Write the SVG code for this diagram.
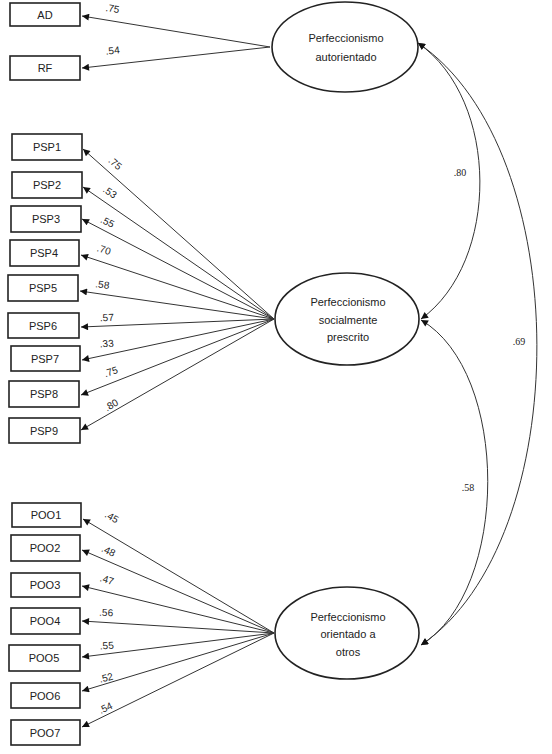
<svg xmlns="http://www.w3.org/2000/svg" width="552" height="754" viewBox="0 0 552 754">
<defs>
<marker id="ah" viewBox="0 0 10 10" refX="10" refY="5" markerUnits="userSpaceOnUse" markerWidth="9" markerHeight="7" orient="auto-start-reverse"><path d="M0,0 L10,5 L0,10 z" fill="#111"/></marker>
<style>
.box{fill:#fff;stroke:#222;stroke-width:1.6}
.ell{fill:#fff;stroke:#222;stroke-width:1.6}
.bt{font-family:"Liberation Sans",Arial,sans-serif;font-size:11px;fill:#222;text-anchor:middle}
.et{font-family:"Liberation Sans",Arial,sans-serif;font-size:11px;fill:#222;text-anchor:middle}
.lb{font-family:"Liberation Sans",Arial,sans-serif;font-size:10px;fill:#222;text-anchor:middle}
.cl{font-family:"Liberation Serif","Times New Roman",serif;font-size:10px;fill:#222;text-anchor:middle}
.ar{fill:none;stroke:#333;stroke-width:1;marker-end:url(#ah)}
.cv{fill:none;stroke:#333;stroke-width:1;marker-start:url(#ah);marker-end:url(#ah)}
</style>
</defs>
<g id="connectors">
<path class="ar" d="M270,47 L82,16"/>
<path class="ar" d="M270,47 L82,68"/>
<path class="ar" d="M274,319 L83,149"/>
<path class="ar" d="M274,319 L83,187"/>
<path class="ar" d="M274,319 L82,219"/>
<path class="ar" d="M274,319 L81,255"/>
<path class="ar" d="M274,319 L80,291"/>
<path class="ar" d="M274,319 L81,327"/>
<path class="ar" d="M274,319 L82,360"/>
<path class="ar" d="M274,319 L81,395"/>
<path class="ar" d="M274,319 L81,430"/>
<path class="ar" d="M274,633 L83,519"/>
<path class="ar" d="M274,633 L82,550"/>
<path class="ar" d="M274,633 L82,586"/>
<path class="ar" d="M274,633 L82,621"/>
<path class="ar" d="M274,633 L82,657"/>
<path class="ar" d="M274,633 L82,691"/>
<path class="ar" d="M274,633 L82,727"/>
<path class="cv" d="M418,43 C500,100 500,262 421,319"/>
<path class="cv" d="M421,320 C510,372 510,590 421,645"/>
<path class="cv" d="M418,43 C576,150 576,540 421,645"/>
<text class="lb" transform="translate(112,12) rotate(9)">.75</text>
<text class="lb" transform="translate(113,54) rotate(-6)">.54</text>
<text class="lb" transform="translate(113,166) rotate(40)">.75</text>
<text class="lb" transform="translate(108,195) rotate(34)">.53</text>
<text class="lb" transform="translate(106,225) rotate(26)">.55</text>
<text class="lb" transform="translate(103,253) rotate(17)">.70</text>
<text class="lb" transform="translate(102,288) rotate(7)">.58</text>
<text class="lb" transform="translate(107,321) rotate(-3)">.57</text>
<text class="lb" transform="translate(107,347) rotate(-5)">.33</text>
<text class="lb" transform="translate(112,375) rotate(-18)">.75</text>
<text class="lb" transform="translate(113,408) rotate(-30)">.80</text>
<text class="lb" transform="translate(110,520) rotate(30)">.45</text>
<text class="lb" transform="translate(107,554) rotate(26)">.48</text>
<text class="lb" transform="translate(106,583) rotate(16)">.47</text>
<text class="lb" transform="translate(106,616) rotate(3)">.56</text>
<text class="lb" transform="translate(107,649) rotate(-4)">.55</text>
<text class="lb" transform="translate(107,681) rotate(-14)">.52</text>
<text class="lb" transform="translate(107,711) rotate(-25)">.54</text>
<text class="cl" x="460" y="176">.80</text>
<text class="cl" x="519" y="345">.69</text>
<text class="cl" x="468" y="491">.58</text>
</g>
<g id="AD"><rect class="box" x="10" y="3" width="70" height="23"/><text class="bt" x="45" y="19">AD</text></g>
<g id="RF"><rect class="box" x="10" y="56" width="70" height="24"/><text class="bt" x="45" y="72">RF</text></g>
<g id="PSP1"><rect class="box" x="12" y="134" width="70" height="26"/><text class="bt" x="47" y="151">PSP1</text></g>
<g id="PSP2"><rect class="box" x="12" y="172" width="70" height="26"/><text class="bt" x="47" y="189">PSP2</text></g>
<g id="PSP3"><rect class="box" x="11" y="206" width="70" height="26"/><text class="bt" x="46" y="223">PSP3</text></g>
<g id="PSP4"><rect class="box" x="10" y="240" width="69" height="26"/><text class="bt" x="44" y="257">PSP4</text></g>
<g id="PSP5"><rect class="box" x="8" y="275" width="70" height="26"/><text class="bt" x="43" y="292">PSP5</text></g>
<g id="PSP6"><rect class="box" x="8" y="313" width="71" height="25"/><text class="bt" x="43" y="330">PSP6</text></g>
<g id="PSP7"><rect class="box" x="11" y="346" width="69" height="25"/><text class="bt" x="45" y="363">PSP7</text></g>
<g id="PSP8"><rect class="box" x="9" y="381" width="70" height="26"/><text class="bt" x="44" y="398">PSP8</text></g>
<g id="PSP9"><rect class="box" x="9" y="418" width="71" height="25"/><text class="bt" x="44" y="435">PSP9</text></g>
<g id="POO1"><rect class="box" x="12" y="503" width="69" height="24"/><text class="bt" x="46" y="519">POO1</text></g>
<g id="POO2"><rect class="box" x="11" y="535" width="69" height="26"/><text class="bt" x="45" y="552">POO2</text></g>
<g id="POO3"><rect class="box" x="11" y="573" width="69" height="24"/><text class="bt" x="45" y="589">POO3</text></g>
<g id="POO4"><rect class="box" x="11" y="608" width="69" height="26"/><text class="bt" x="45" y="625">POO4</text></g>
<g id="POO5"><rect class="box" x="9" y="645" width="71" height="26"/><text class="bt" x="44" y="662">POO5</text></g>
<g id="POO6"><rect class="box" x="11" y="683" width="69" height="25"/><text class="bt" x="45" y="700">POO6</text></g>
<g id="POO7"><rect class="box" x="11" y="720" width="69" height="25"/><text class="bt" x="45" y="737">POO7</text></g>
<g id="F1"><ellipse class="ell" cx="345" cy="47" rx="73" ry="45"/><text class="et" x="346" y="42">Perfeccionismo</text><text class="et" x="346" y="61">autorientado</text></g>
<g id="F2"><ellipse class="ell" cx="347" cy="319" rx="72" ry="46"/><text class="et" x="348" y="306">Perfeccionismo</text><text class="et" x="348" y="324">socialmente</text><text class="et" x="348" y="341">prescrito</text></g>
<g id="F3"><ellipse class="ell" cx="347" cy="633" rx="72" ry="46"/><text class="et" x="348" y="621">Perfeccionismo</text><text class="et" x="348" y="638">orientado a</text><text class="et" x="348" y="656">otros</text></g>
</svg>
